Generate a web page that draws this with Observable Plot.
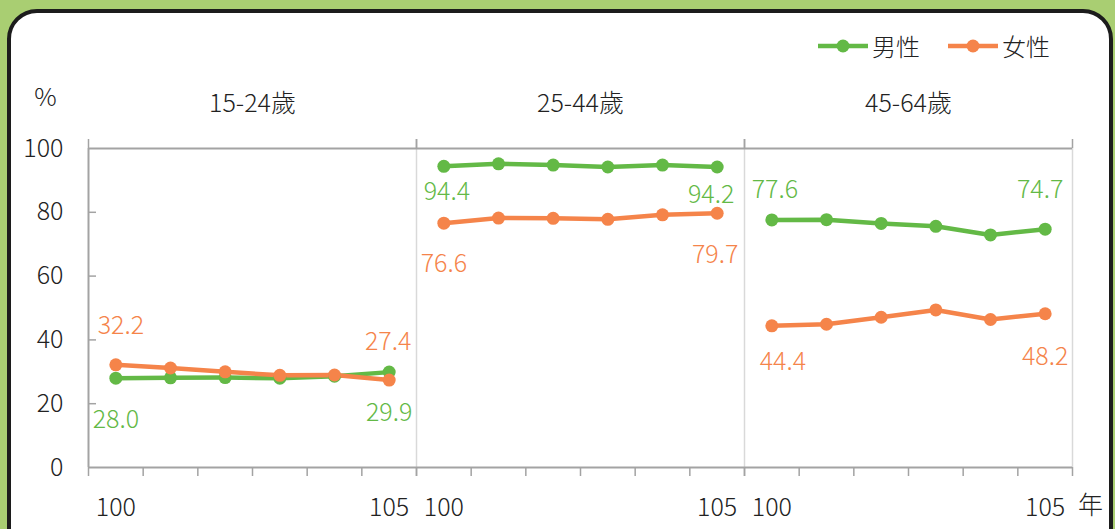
<!DOCTYPE html>
<html>
<head>
<meta charset="utf-8">
<script src="https://cdn.jsdelivr.net/npm/d3@7"></script>
<script src="https://cdn.jsdelivr.net/npm/@observablehq/plot@0.6"></script>
<style>
  html, body { margin: 0; padding: 0; }
  body {
    width: 1115px; height: 529px; overflow: hidden; position: relative;
    background: #a9ce72;
    font-family: "Noto Sans CJK TC", "Noto Sans", sans-serif;
  }
  #card {
    position: absolute; left: 7px; top: 9px; width: 1098px; height: 560px;
    background: #fff; border: 4px solid #1c1c1c; border-radius: 30px;
  }
  #chart { position: absolute; left: 0; top: 0; }
  .legend-item { position: absolute; top: 30px; height: 32px; display: flex; align-items: center; }
  .legend-item span { font-size: 24px; font-weight: 300; color: #222; margin-left: 4px; line-height: 32px; }
</style>
</head>
<body>
<div id="card"></div>
<div id="chart"></div>
<div id="legend"></div>
<script>
// ---- data ----
const panels = ["15-24歲", "25-44歲", "45-64歲"];
const years = [100, 101, 102, 103, 104, 105];
const seriesNames = ["男性", "女性"];
const male1524   = [28.0, 28.1, 28.2, 28.0, 28.6, 29.9];
const female1524 = [32.2, 31.2, 30.0, 28.9, 29.0, 27.4];
const male2544   = [94.4, 95.2, 94.8, 94.2, 94.8, 94.2];
const female2544 = [76.6, 78.2, 78.1, 77.8, 79.2, 79.7];
const male4564   = [77.6, 77.7, 76.5, 75.6, 72.9, 74.7];
const female4564 = [44.4, 44.9, 47.1, 49.4, 46.4, 48.2];
const yTicks = [0, 20, 40, 60, 80, 100];
const xTickLabels = [100, 105];
const yUnit = "%";
const xUnit = "年";

// ---- styling ----
const colors = ["#63b946", "#f5844a"];
const axisGray = "#a3a3a3";
const sepGray = "#d9d9d9";
const font = 25;

const seriesByPanel = [
  [male1524, female1524],
  [male2544, female2544],
  [male4564, female4564]
];
const rows = [];
panels.forEach((p, pi) => {
  seriesNames.forEach((s, si) => {
    years.forEach((y, yi) => rows.push({panel: p, sex: s, year: y, value: seriesByPanel[pi][si][yi]}));
  });
});

// label offsets [dx, dy] for first and last point of each panel/series
const labelOffsets = {
  "15-24歲": {"男性": [[0, 42], [0, 41]], "女性": [[5, -39], [-1, -38]]},
  "25-44歲": {"男性": [[3, 26], [-6, 28]], "女性": [[0, 41], [-2, 42]]},
  "45-64歲": {"男性": [[3, -30], [-5, -39]], "女性": [[11, 36], [0, 43]]}
};
const first = years[0], last = years[years.length - 1];
const labelMarks = rows
  .filter(d => d.year === first || d.year === last)
  .map(d => {
    const [dx, dy] = labelOffsets[d.panel][d.sex][d.year === first ? 0 : 1];
    return Plot.text([d], {
      fx: "panel", x: "year", y: "value",
      text: r => r.value.toFixed(1),
      fill: colors[seriesNames.indexOf(d.sex)],
      fontSize: font, dx, dy
    });
  });

const bounds = d3.range(years.length + 1).map(i => years[0] - 0.5 + i);
const tickRows = panels.flatMap(p => bounds.map(b => ({panel: p, x: b})));
const frameH = 529 - 148 - 62;

const chart = Plot.plot({
  width: 1115, height: 529,
  marginLeft: 87, marginRight: 42, marginTop: 148, marginBottom: 62,
  style: {background: "transparent", color: "#222", fontFamily: '"Noto Sans CJK TC", "Noto Sans", sans-serif', fontWeight: 300, overflow: "visible"},
  fx: {domain: panels, padding: 0, axis: null},
  x: {domain: [years[0] - 0.5, last + 0.5]},
  y: {domain: [0, 100]},
  color: {domain: seriesNames, range: colors},
  marks: [
    Plot.ruleX(panels.map(p => ({panel: p, x: last + 0.5})), {fx: "panel", x: "x", stroke: sepGray, strokeWidth: 1.5}),
    Plot.ruleX(panels.flatMap(p => [{panel: p, x: first - 0.5}, {panel: p, x: last + 0.5}]), {fx: "panel", x: "x", stroke: axisGray, strokeWidth: 1.5, insetTop: -9, insetBottom: frameH}),
    Plot.ruleX([{panel: panels[0], x: first - 0.5}], {fx: "panel", x: "x", stroke: axisGray, strokeWidth: 2}),
    Plot.ruleY([100], {stroke: axisGray, strokeWidth: 2}),
    Plot.ruleY([0], {stroke: axisGray, strokeWidth: 2}),
    Plot.ruleX(tickRows, {fx: "panel", x: "x", stroke: axisGray, strokeWidth: 1.5, insetTop: frameH, insetBottom: -9}),
    Plot.ruleY(yTicks.slice(1, -1).map(t => ({panel: panels[0], y: t})), {fx: "panel", y: "y", x1: () => first - 0.5, x2: () => first - 0.5, insetRight: -8, stroke: axisGray, strokeWidth: 1.5}),
    Plot.axisY({ticks: yTicks, tickSize: 0, tickPadding: 25, fontSize: font, label: null}),
    Plot.axisX({ticks: xTickLabels, tickSize: 0, tickPadding: 31, fontSize: font, label: null, tickFormat: d => String(d)}),
    Plot.text(panels, {fx: d => d, text: d => d, frameAnchor: "top", lineAnchor: "middle", textAnchor: "middle", dy: -45, fontSize: font, fill: "#222"}),
    Plot.text([panels[0]], {fx: d => d, text: () => yUnit, frameAnchor: "top-left", lineAnchor: "middle", textAnchor: "middle", dx: -43, dy: -51, fontSize: font, fill: "#222"}),
    Plot.text([panels[2]], {fx: d => d, text: () => xUnit, frameAnchor: "bottom-right", lineAnchor: "middle", textAnchor: "middle", dx: 18, dy: 38, fontSize: font, fill: "#222"}),
    Plot.line(rows, {fx: "panel", x: "year", y: "value", z: d => d.panel + d.sex, stroke: "sex", strokeWidth: 4.5}),
    Plot.dot(rows, {fx: "panel", x: "year", y: "value", fill: "sex", r: 6.5}),
    ...labelMarks
  ]
});
document.getElementById("chart").appendChild(chart);

const legendLeft = [818, 948];
const legend = document.getElementById("legend");
seriesNames.forEach((s, i) => {
  const item = document.createElement("div");
  item.className = "legend-item";
  item.style.left = legendLeft[i] + "px";
  item.innerHTML = `<svg width="50" height="16"><line x1="0" y1="8" x2="50" y2="8" stroke="${colors[i]}" stroke-width="4.5"/><circle cx="25" cy="8" r="6.5" fill="${colors[i]}"/></svg><span>${s}</span>`;
  legend.appendChild(item);
});
</script>
</body>
</html>
